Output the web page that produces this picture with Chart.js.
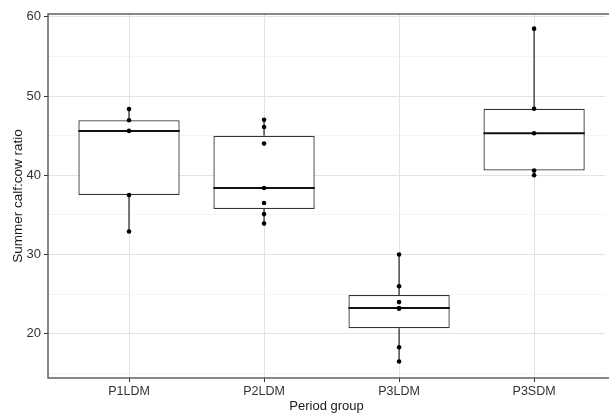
<!DOCTYPE html>
<html>
<head>
<meta charset="utf-8">
<script src="https://cdn.jsdelivr.net/npm/chart.js@4/dist/chart.umd.min.js"></script>
<style>
  html, body { margin: 0; padding: 0; background: #fff; }
  #wrap { width: 609px; height: 413px; position: relative; }
</style>
</head>
<body>
<div id="wrap"><canvas id="myChart"></canvas></div>
<script>
// groups on the x axis
var groups = ["P1LDM", "P2LDM", "P3LDM", "P3SDM"];

var pointsP1LDM = [32.9, 37.5, 45.6, 46.95, 48.35];
var pointsP2LDM = [33.9, 35.1, 36.5, 38.4, 44.0, 46.1, 47.0];
var pointsP3LDM = [16.5, 18.3, 23.2, 23.2, 24.0, 26.0, 30.0];
var pointsP3SDM = [40.0, 40.6, 45.3, 48.4, 58.5];
var allPoints = [pointsP1LDM, pointsP2LDM, pointsP3LDM, pointsP3SDM];

// box statistics per group
var lowWhisker  = [32.9, 33.9, 16.5, 40.0];
var q1          = [37.5, 35.75, 20.7, 40.6];
var median      = [45.6, 38.4, 23.25, 45.3];
var q3          = [46.95, 45.0, 24.9, 48.4];
var highWhisker = [48.35, 47.0, 30.0, 58.5];

// y axis ticks
var yMajor = [20, 30, 40, 50, 60];
var yMinor = [15, 25, 35, 45, 55];

var FONT = "'Liberation Sans', Arial, sans-serif";
var boxHalf = 0.375;

var datasets = [];

// points on top
var pts = [];
allPoints.forEach(function(arr, i){
    arr.forEach(function(v){ pts.push({x: i, y: v}); });
});
datasets.push({
    type: "scatter",
    data: pts,
    pointRadius: 2.3,
    pointBackgroundColor: "#000",
    pointBorderWidth: 0,
    order: 0
});

// medians
groups.forEach(function(g, i){
    datasets.push({
        type: "line",
        data: [{x: i - boxHalf, y: median[i]}, {x: i + boxHalf, y: median[i]}],
        borderColor: "#111",
        borderWidth: 2,
        pointRadius: 0,
        order: 1
    });
});

// boxes
datasets.push({
    type: "bar",
    data: groups.map(function(g, i){ return {x: i, y: [q1[i], q3[i]]}; }),
    backgroundColor: "#fff",
    borderColor: "#333",
    borderWidth: 1.3,
    borderSkipped: false,
    barPercentage: 0.75,
    categoryPercentage: 1,
    order: 2
});

// whiskers
groups.forEach(function(g, i){
    datasets.push({
        type: "line",
        data: [{x: i, y: lowWhisker[i]}, {x: i, y: q1[i]}, {x: i, y: null},
               {x: i, y: q3[i]}, {x: i, y: highWhisker[i]}],
        spanGaps: false,
        borderColor: "#333",
        borderWidth: 1.3,
        pointRadius: 0,
        order: 3
    });
});

var framePlugin = {
    id: "frame",
    afterDraw: function(chart){
        var a = chart.chartArea, ctx = chart.ctx;
        ctx.save();
        ctx.strokeStyle = "#555";
        ctx.lineWidth = 1.4;
        ctx.strokeRect(a.left, a.top, a.right - a.left + 10, a.bottom - a.top);
        ctx.restore();
    }
};

var myChart = new Chart(document.getElementById("myChart"), {
    type: "bar",
    data: { datasets: datasets },
    plugins: [framePlugin],
    options: {
        responsive: true,
        maintainAspectRatio: false,
        animation: false,
        events: [],
        layout: { padding: { top: 14, right: 0, left: 0, bottom: 0 } },
        plugins: { legend: { display: false }, tooltip: { enabled: false } },
        scales: {
            x: {
                type: "linear",
                offset: false,
                min: -0.6,
                max: 3.525,
                afterBuildTicks: function(scale){
                    scale.ticks = groups.map(function(g, i){ return {value: i}; });
                },
                afterFit: function(scale){ scale.height = 35; },
                ticks: {
                    autoSkip: false,
                    maxRotation: 0,
                    padding: 2,
                    color: "#333",
                    font: { family: FONT, size: 12.5 },
                    callback: function(v){ return groups[v]; }
                },
                grid: {
                    offset: false,
                    color: "#e2e2e2",
                    lineWidth: 1,
                    tickLength: 4,
                    tickColor: "#333",
                    tickWidth: 1
                },
                border: { display: false },
                title: {
                    display: true,
                    text: "Period group",
                    color: "#1a1a1a",
                    font: { family: FONT, size: 13, lineHeight: 1 },
                    padding: { top: 0, bottom: 0 }
                }
            },
            y: {
                type: "linear",
                min: 14.42,
                max: 60.35,
                afterBuildTicks: function(scale){
                    scale.ticks = yMinor.concat(yMajor).sort(function(a, b){ return a - b; })
                        .map(function(v){ return {value: v}; });
                },
                afterFit: function(scale){ scale.width = 48; },
                ticks: {
                    autoSkip: false,
                    padding: 3,
                    color: "#333",
                    font: { family: FONT, size: 13 },
                    callback: function(v){ return yMajor.indexOf(v) >= 0 ? String(v) : ""; }
                },
                grid: {
                    color: function(c){ return yMajor.indexOf(c.tick.value) >= 0 ? "#e2e2e2" : "#f2f2f2"; },
                    lineWidth: function(c){ return yMajor.indexOf(c.tick.value) >= 0 ? 1 : 0.8; },
                    tickLength: 4,
                    tickColor: function(c){ return yMajor.indexOf(c.tick.value) >= 0 ? "#333" : "rgba(0,0,0,0)"; },
                    tickWidth: 1
                },
                border: { display: false },
                title: {
                    display: true,
                    text: "Summer calf:cow ratio",
                    color: "#1a1a1a",
                    font: { family: FONT, size: 13.5 },
                    padding: { top: 10, bottom: 0 }
                }
            }
        }
    }
});
</script>
</body>
</html>
